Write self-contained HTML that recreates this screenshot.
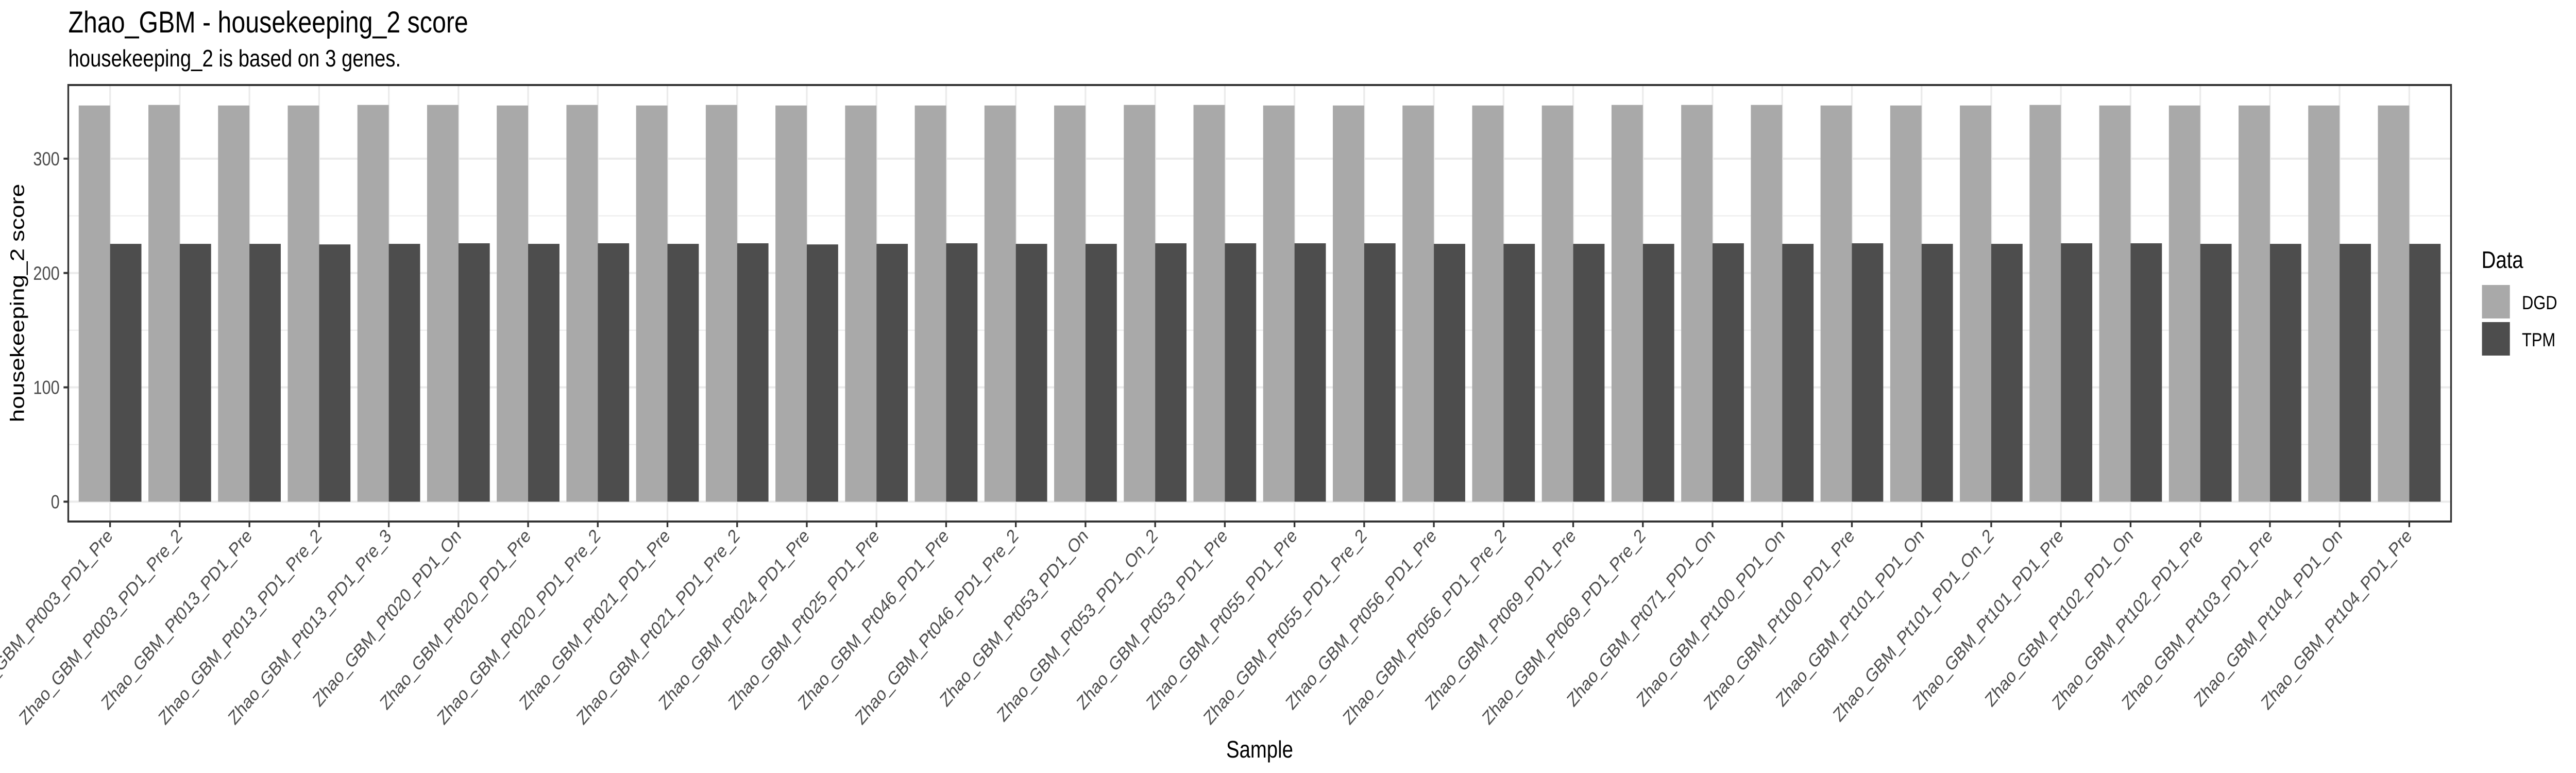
<!DOCTYPE html>
<html><head><meta charset="utf-8">
<style>
html,body{margin:0;padding:0;background:#fff;width:100%;height:100%;overflow:hidden;}
svg{display:block;font-family:"Liberation Sans",Arial,sans-serif;width:100vw;height:100vh;}
</style></head>
<body>
<svg id="chart" viewBox="0 0 6000 1500" preserveAspectRatio="none" xmlns="http://www.w3.org/2000/svg">
<text x="159" y="63" font-size="58" fill="#000">Zhao_GBM - housekeeping_2 score</text>
<text x="159" y="129" font-size="46" fill="#000">housekeeping_2 is based on 3 genes.</text>
<g id="plot"></g>
<text x="2934" y="1470" font-size="46" text-anchor="middle" fill="#000">Sample</text>
<text transform="translate(56,588) rotate(-90)" font-size="46" text-anchor="middle" fill="#000">housekeeping_2 score</text>
<g>
<text x="5780" y="520" font-size="46" fill="#000">Data</text>
<rect x="5781" y="553" width="65" height="65" fill="#a9a9a9"/>
<text x="5874" y="600" font-size="37" fill="#000">DGD</text>
<rect x="5781" y="625" width="65" height="65" fill="#4d4d4d"/>
<text x="5874" y="672" font-size="37" fill="#000">TPM</text>
</g>
</svg>
<script>
const categories = ["Zhao_GBM_Pt003_PD1_Pre","Zhao_GBM_Pt003_PD1_Pre_2","Zhao_GBM_Pt013_PD1_Pre","Zhao_GBM_Pt013_PD1_Pre_2","Zhao_GBM_Pt013_PD1_Pre_3","Zhao_GBM_Pt020_PD1_On","Zhao_GBM_Pt020_PD1_Pre","Zhao_GBM_Pt020_PD1_Pre_2","Zhao_GBM_Pt021_PD1_Pre","Zhao_GBM_Pt021_PD1_Pre_2","Zhao_GBM_Pt024_PD1_Pre","Zhao_GBM_Pt025_PD1_Pre","Zhao_GBM_Pt046_PD1_Pre","Zhao_GBM_Pt046_PD1_Pre_2","Zhao_GBM_Pt053_PD1_On","Zhao_GBM_Pt053_PD1_On_2","Zhao_GBM_Pt053_PD1_Pre","Zhao_GBM_Pt055_PD1_Pre","Zhao_GBM_Pt055_PD1_Pre_2","Zhao_GBM_Pt056_PD1_Pre","Zhao_GBM_Pt056_PD1_Pre_2","Zhao_GBM_Pt069_PD1_Pre","Zhao_GBM_Pt069_PD1_Pre_2","Zhao_GBM_Pt071_PD1_On","Zhao_GBM_Pt100_PD1_On","Zhao_GBM_Pt100_PD1_Pre","Zhao_GBM_Pt101_PD1_On","Zhao_GBM_Pt101_PD1_On_2","Zhao_GBM_Pt101_PD1_Pre","Zhao_GBM_Pt102_PD1_On","Zhao_GBM_Pt102_PD1_Pre","Zhao_GBM_Pt103_PD1_Pre","Zhao_GBM_Pt104_PD1_On","Zhao_GBM_Pt104_PD1_Pre"];
const dgdValues = [346.5,347,346.5,346.5,347,347,346.5,347,346.5,347,346.5,346.5,346.5,346.5,346.5,347,347,346.5,346.5,346.5,346.5,346.5,347,347,347,346.5,346.5,346.5,347,346.5,346.5,346.5,346.5,346.5];
const tpmValues = [225.5,225.5,225.5,225,225.5,226,225.5,226,225.5,226,225,225.5,226,225.5,225.5,226,226,226,226,225.5,225.5,225.5,225.5,226,225.5,226,225.5,225.5,226,226,225.5,225.5,225.5,225.5];
const yTicks = [0,100,200,300];
const yMinor = [50,150,250];

const NS="http://www.w3.org/2000/svg";
const L=159,R=5709,T=165,B=1012;
const yMin=-17.35, yMax=364.4;
const n=categories.length;
function xScale(i){return L+(i+0.6)*(R-L)/(n+0.2);}
const band=(R-L)/(n+0.2);
function yScale(v){return B-(v-yMin)/(yMax-yMin)*(B-T);}
const g=document.getElementById('plot');
function mk(tag,attrs,parent){const e=document.createElementNS(NS,tag);for(const k in attrs)e.setAttribute(k,attrs[k]);(parent||g).appendChild(e);return e;}

mk('rect',{x:L,y:T,width:R-L,height:B-T,fill:'#fff'});
yMinor.forEach(v=>{const l=mk('line',{x1:L,x2:R,y1:yScale(v),y2:yScale(v),stroke:'#ebebeb','stroke-width':2});

});
yTicks.forEach(v=>{const l=mk('line',{x1:L,x2:R,y1:yScale(v),y2:yScale(v),stroke:'#ebebeb','stroke-width':4});

});
categories.forEach((c,i)=>{const l=mk('line',{x1:xScale(i),x2:xScale(i),y1:T,y2:B,stroke:'#ebebeb','stroke-width':4});

});

const bw=band*0.9/2;
categories.forEach((c,i)=>{
  const cx=xScale(i);
  const r1=mk('rect',{x:cx-bw,y:yScale(dgdValues[i]),width:bw,height:yScale(0)-yScale(dgdValues[i]),fill:'#a9a9a9'});
  
  
  const r2=mk('rect',{x:cx,y:yScale(tpmValues[i]),width:bw,height:yScale(0)-yScale(tpmValues[i]),fill:'#4d4d4d'});
  
  
  const tk=mk('line',{x1:cx,x2:cx,y1:B,y2:B+11,stroke:'#333','stroke-width':4});
  
  
  const t=mk('text',{transform:`translate(${cx+8},${B+30}) rotate(-45)`,'font-size':37,fill:'#4d4d4d','text-anchor':'end'});
  t.textContent=c;
  
  
});
yTicks.forEach(v=>{
  const tk=mk('line',{x1:L-11,x2:L,y1:yScale(v),y2:yScale(v),stroke:'#333','stroke-width':4});
  
  
  const t=mk('text',{x:L-20,y:yScale(v)+13,'font-size':37,fill:'#4d4d4d','text-anchor':'end'});
  t.textContent=v;
  
  
});
const border=mk('rect',{x:L,y:T,width:R-L,height:B-T,fill:'none',stroke:'#333','stroke-width':4});


</script>
</body></html>
